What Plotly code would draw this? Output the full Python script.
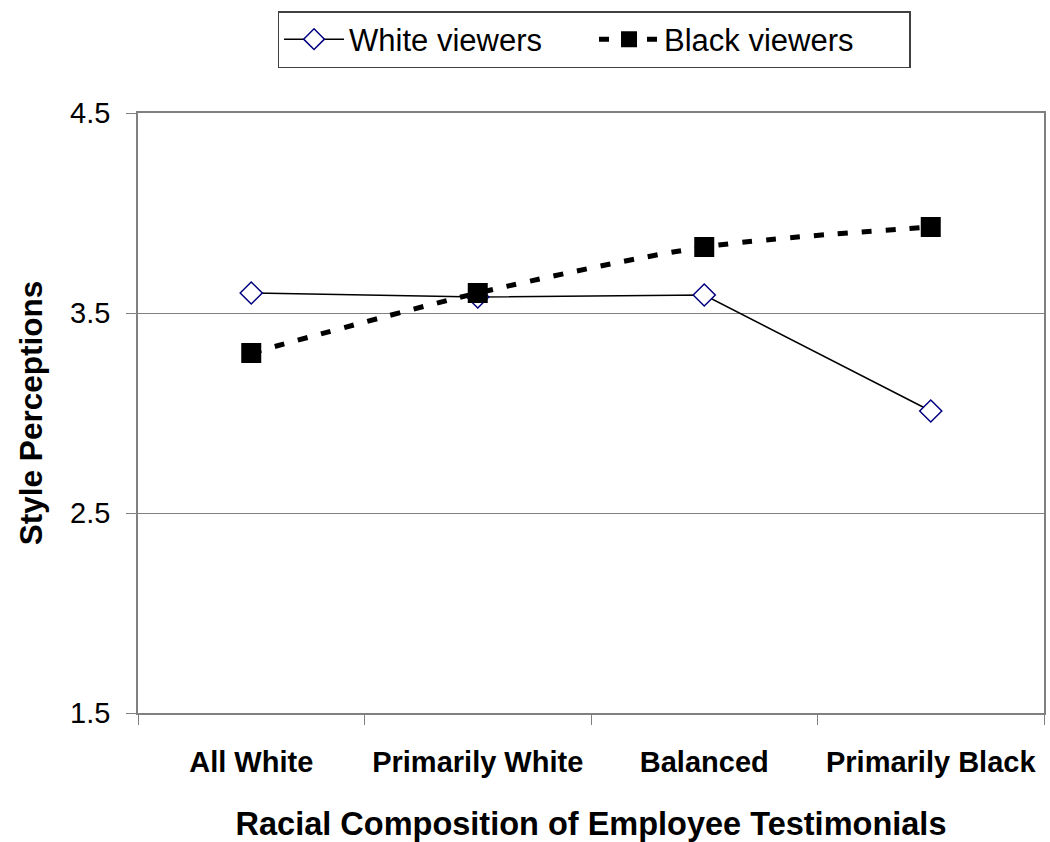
import plotly.graph_objects as go

categories = ["All White", "Primarily White", "Balanced", "Primarily Black"]
white_viewers = [3.60, 3.58, 3.59, 3.01]
black_viewers = [3.30, 3.60, 3.83, 3.93]
y_ticks = [1.5, 2.5, 3.5, 4.5]

FONT = "Liberation Sans, Arial, sans-serif"
AXIS_GRAY = "#808080"

fig = go.Figure()

fig.add_trace(go.Scatter(
    x=categories, y=white_viewers, name="White viewers",
    mode="lines+markers",
    line=dict(color="black", width=1.5),
    marker=dict(symbol="diamond", size=17, color="white",
                line=dict(color="#000080", width=1.5)),
))

fig.add_trace(go.Scatter(
    x=categories, y=black_viewers, name="Black viewers",
    mode="lines+markers",
    line=dict(color="black", width=5, dash="10px,14px", shape="spline", smoothing=0.8),
    marker=dict(symbol="square", size=20, color="black",
                line=dict(color="black", width=0)),
))

fig.update_layout(
    width=1050, height=842,
    margin=dict(l=138, r=4, t=113, b=129),
    paper_bgcolor="white", plot_bgcolor="white",
    font=dict(family=FONT, color="black"),
    legend=dict(
        orientation="h",
        x=0.154, y=1.17, xanchor="left", yanchor="top",
        bordercolor="#404040", borderwidth=1.5,
        font=dict(size=31, family=FONT),
        itemwidth=60,
        entrywidth=240,
        bgcolor="white",
    ),
    xaxis=dict(
        type="category",
        categoryorder="array", categoryarray=categories,
        tickvals=categories, ticktext=[f"<b>{c}</b>" for c in categories],
        range=[-0.5, 3.5],
        showline=True, linecolor=AXIS_GRAY, linewidth=1.5, mirror=True,
        showgrid=False, zeroline=False,
        ticks="outside", tickson="boundaries", ticklen=10, tickcolor=AXIS_GRAY, tickwidth=1,
        ticklabelstandoff=22,
        tickfont=dict(size=29, family=FONT),
        title=dict(text="<b>Racial Composition of Employee Testimonials</b>",
                   font=dict(size=32.5, family=FONT), standoff=36),
    ),
    yaxis=dict(
        range=[1.5, 4.5],
        tickvals=y_ticks, ticktext=[f"{v:.1f}" for v in y_ticks],
        showline=True, linecolor=AXIS_GRAY, linewidth=1.5, mirror=True,
        showgrid=True, gridcolor=AXIS_GRAY, gridwidth=1,
        zeroline=False,
        ticks="outside", ticklen=10, tickcolor=AXIS_GRAY, tickwidth=1,
        ticklabelstandoff=10,
        tickfont=dict(size=29, family=FONT),
        title=dict(text="<b>Style Perceptions</b>",
                   font=dict(size=31.5, family=FONT), standoff=18),
    ),
)

fig.write_html("out.html")
